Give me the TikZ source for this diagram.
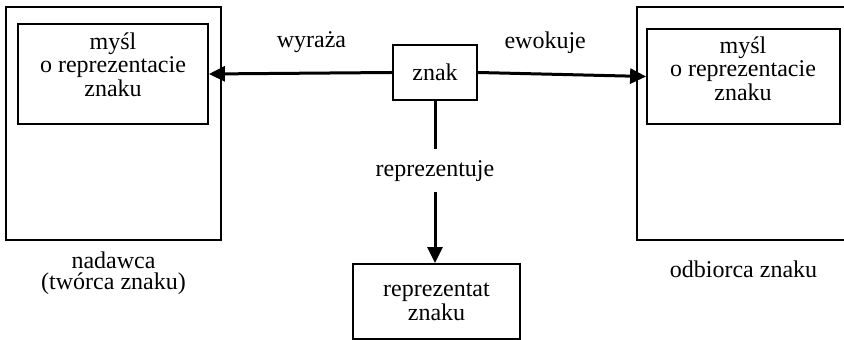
\documentclass[tikz,border=0pt]{standalone}
\usepackage{fontspec}
\setmainfont{Liberation Serif}
\usetikzlibrary{arrows.meta}
\usetikzlibrary{positioning}

\begin{document}
\begin{tikzpicture}[x=0.5pt, y=-0.5pt,
	box/.style={draw, line width=0.9pt, inner sep=0pt},
	arr/.style={line width=1.5pt, arrows=-{Triangle[length=8pt, width=7.5pt]}},
	txt/.style={align=center, inner sep=0pt, font=\fontsize{12}{10.5}\selectfont}]
	\useasboundingbox (0,0) rectangle (844,340);
	\clip (0,0) rectangle (844,340);

	% nadawca
	\node [box, minimum width=107.5pt, minimum height=116.5pt] (nadawca) at (113.5,123.5) {};
	\node [box, minimum width=95pt, minimum height=50pt] (mysl1) at (113,74) {};
	\node [txt] (mysl1txt) at (113,65) {myśl\\o reprezentacie\\znaku};
	\node [txt, below=5.5pt of nadawca] (nadawcatxt) {nadawca\\(twórca znaku)};

	% odbiorca
	\node [box, minimum width=106.5pt, minimum height=116.5pt] (odbiorca) at (743.5,123.5) {};
	\node [box, minimum width=96.5pt, minimum height=47.5pt] (mysl2) at (743.5,76.5) {};
	\node [txt] (mysl2txt) at (743,68.5) {myśl\\o reprezentacie\\znaku};
	\node [txt, below=10pt of odbiorca] (odbiorcatxt) {odbiorca znaku};

	% znak i reprezentat
	\node [box, txt, minimum width=42pt, minimum height=27.5pt] (znak) at (435,72.5) {znak};
	\node [box, txt, minimum width=83.5pt, minimum height=37.5pt] (reprezentat) at (436.5,301.5) {reprezentat\\znaku};

	% strzalki
	\draw [arr] (znak.west) -- node [txt, pos=0.44, above=9.5pt] (wyraza) {wyraża} (mysl1.east);
	\draw [arr] (znak.east) -- node [txt, pos=0.4, above=9.5pt] (ewokuje) {ewokuje} (mysl2.west);
	\draw [arr] (znak.south) -- node [txt, pos=0.43, fill=white, inner ysep=5.4pt] (reprezentuje) {reprezentuje} (znak.south |- reprezentat.north);
\end{tikzpicture}
\end{document}
